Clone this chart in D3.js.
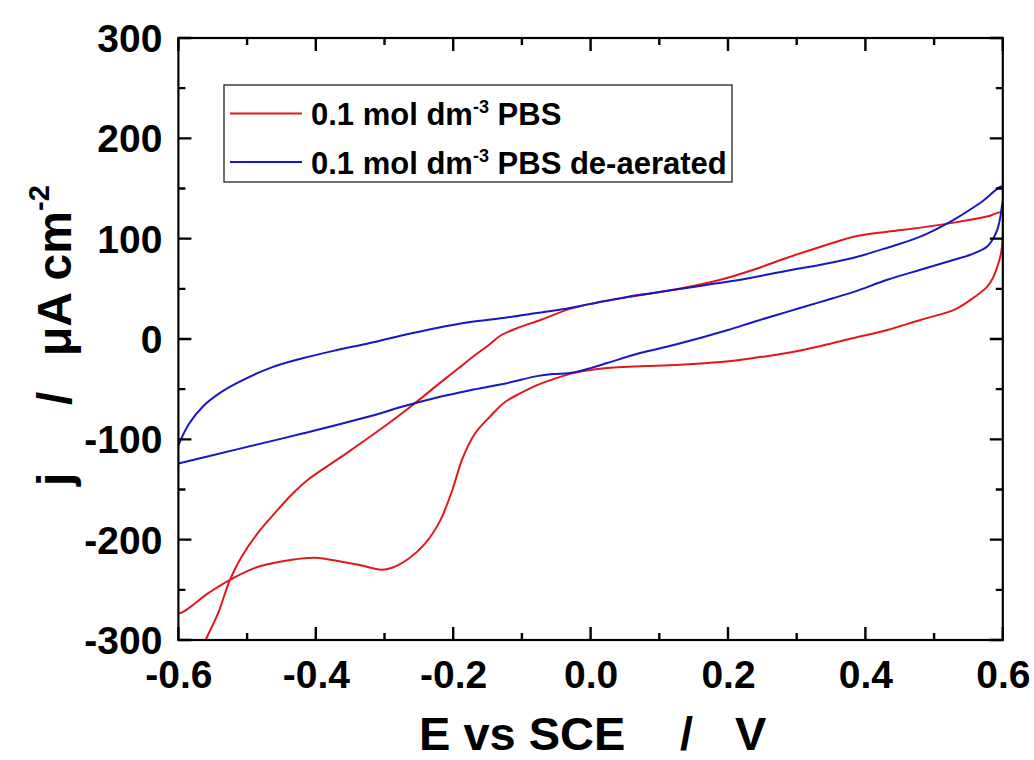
<!DOCTYPE html>
<html>
<head>
<meta charset="utf-8">
<script src="https://cdn.jsdelivr.net/npm/d3@7"></script>
<style>
  html, body { margin: 0; padding: 0; background: #fff; }
  svg { display: block; }
  text { font-family: "Liberation Sans", Arial, Helvetica, sans-serif; font-weight: bold; fill: #000; }
</style>
</head>
<body>
<svg id="chart" width="1034" height="760"></svg>
<script>
// Cyclic voltammograms: potential E (V vs SCE) and current density j (µA cm^-2),
// listed in scan order (anodic sweep first, then the return sweep).
const aeratedE = [-0.600, -0.580, -0.561, -0.542, -0.525, -0.508, -0.484, -0.459, -0.435, -0.411,
  -0.362, -0.314, -0.265, -0.216, -0.190, -0.170, -0.150, -0.132, -0.110, -0.073, -0.025, 0.048,
  0.121, 0.189, 0.237, 0.286, 0.335, 0.383, 0.432, 0.480, 0.529, 0.577, 0.600,
  0.600, 0.597, 0.592, 0.585, 0.577, 0.553, 0.529, 0.480, 0.432, 0.383, 0.335, 0.286, 0.237,
  0.189, 0.121, 0.024, -0.025, -0.054, -0.078, -0.102, -0.125, -0.146, -0.168, -0.187, -0.201,
  -0.219, -0.241, -0.265, -0.289, -0.304, -0.338, -0.362, -0.401, -0.435,
  -0.484, -0.525, -0.556, -0.600, -0.600];
const aeratedJ = [-372, -332, -301, -273, -240, -217, -193, -173, -155, -140,
  -117, -94, -69, -42, -28, -17, -7, 3, 10, 19, 31, 41,
  49, 59, 69, 81, 92, 102, 107, 111, 116, 122, 126,
  102, 84, 72, 60, 52, 39, 29, 19, 9, 1, -7, -14, -19,
  -23, -26, -29, -34, -40, -46, -54, -63, -77, -94, -120, -150,
  -181, -204, -219, -228, -230, -225, -222, -218, -220,
  -227, -240, -253, -273, -252];

const deaeratedE = [-0.600, -0.585, -0.564, -0.540, -0.515, -0.467, -0.418, -0.369, -0.321, -0.272,
  -0.224, -0.175, -0.127, -0.078, -0.030, 0.000, 0.072, 0.121, 0.170, 0.218, 0.286, 0.335,
  0.383, 0.432, 0.480, 0.529, 0.568, 0.600,
  0.598, 0.592, 0.585, 0.577, 0.553, 0.529, 0.480, 0.432, 0.383, 0.335, 0.286, 0.237, 0.200,
  0.121, 0.072, 0.024, 0.000, -0.030, -0.055, -0.078, -0.122, -0.175, -0.222, -0.272, -0.321,
  -0.418, -0.515, -0.600];
const deaeratedJ = [-106, -85, -67, -54, -44, -29, -19, -11, -4, 4,
  11, 17, 21, 26, 31, 35, 44, 49, 54, 59, 68, 74,
  81, 91, 102, 119, 136, 152,
  129, 109, 99, 92, 84, 79, 69, 59, 47, 37, 27, 17, 9,
  -6, -14, -24, -29, -34, -35, -37, -44, -51, -58, -67, -77,
  -94, -110, -124];

const seriesNames = ["0.1 mol dm", "0.1 mol dm"];
const seriesSuffix = [" PBS", " PBS de-aerated"];
const seriesColors = ["#e3161d", "#1717c4"];

const xMajor = [-0.6, -0.4, -0.2, 0.0, 0.2, 0.4, 0.6];
const xMinor = [-0.5, -0.3, -0.1, 0.1, 0.3, 0.5];
const yMajor = [-300, -200, -100, 0, 100, 200, 300];
const yMinor = [-250, -150, -50, 50, 150, 250];

const svg = d3.select("#chart");
const plotL = 178.4, plotR = 1002.8, plotT = 38, plotB = 640;

const x = d3.scaleLinear().domain([-0.6, 0.6]).range([plotL, plotR]);
const y = d3.scaleLinear().domain([-300, 300]).range([plotB, plotT]);

const fmtX = d => d3.format(".1f")(d).replace("\u2212", "-");
const fmtY = d => d3.format("d")(d).replace("\u2212", "-");

// clip region for the data curves
svg.append("defs").append("clipPath").attr("id", "plotClip")
  .append("rect").attr("x", plotL).attr("y", plotT)
  .attr("width", plotR - plotL).attr("height", plotB - plotT);

// curves
const line = d3.line().x(d => x(d[0])).y(d => y(d[1])).curve(d3.curveCatmullRom.alpha(0.5));
const series = [
  d3.zip(aeratedE, aeratedJ),
  d3.zip(deaeratedE, deaeratedJ)
];
const curves = svg.append("g").attr("clip-path", "url(#plotClip)");
series.forEach((pts, i) => {
  curves.append("path").datum(pts)
    .attr("d", line)
    .attr("fill", "none")
    .attr("stroke", seriesColors[i])
    .attr("stroke-width", 2)
    .attr("stroke-linejoin", "round");
});

// tick labels from d3 axes
const labelStyle = g => {
  g.select(".domain").remove();
  g.selectAll(".tick line").remove();
  g.selectAll(".tick text")
    .attr("font-size", 39).attr("fill", "#000")
    .style("font-family", "'Liberation Sans', Arial, sans-serif").style("font-weight", "bold");
};
svg.append("g").attr("transform", `translate(0,${plotB})`)
  .call(d3.axisBottom(x).tickValues(xMajor).tickSize(0).tickFormat(fmtX))
  .call(labelStyle)
  .call(g => g.selectAll(".tick text").attr("dy", null).attr("y", 48));
svg.append("g").attr("transform", `translate(${plotL},0)`)
  .call(d3.axisLeft(y).tickValues(yMajor).tickSize(0).tickFormat(fmtY))
  .call(labelStyle)
  .call(g => g.selectAll(".tick text").attr("dy", "0.35em").attr("x", -16));

// inward tick marks on all four sides, drawn as one path
const majorLen = 13, minorLen = 7;
const xTickList = xMajor.map(v => [v, majorLen]).concat(xMinor.map(v => [v, minorLen]));
const yTickList = yMajor.map(v => [v, majorLen]).concat(yMinor.map(v => [v, minorLen]));
const tickPath = d3.path();
xTickList.forEach(([v, len]) => {
  const px = x(v);
  tickPath.moveTo(px, plotB); tickPath.lineTo(px, plotB - len);
  tickPath.moveTo(px, plotT); tickPath.lineTo(px, plotT + len);
});
yTickList.forEach(([v, len]) => {
  const py = y(v);
  tickPath.moveTo(plotL, py); tickPath.lineTo(plotL + len, py);
  tickPath.moveTo(plotR, py); tickPath.lineTo(plotR - len, py);
});
svg.append("path").attr("d", tickPath.toString())
  .attr("fill", "none").attr("stroke", "#000").attr("stroke-width", 2.4);

// frame
svg.append("rect").attr("x", plotL).attr("y", plotT)
  .attr("width", plotR - plotL).attr("height", plotB - plotT)
  .attr("fill", "none").attr("stroke", "#000").attr("stroke-width", 2.2);

// axis titles
const xt = svg.append("text").attr("font-size", 47).attr("y", 750);
xt.append("tspan").attr("x", 419).text("E vs SCE");
xt.append("tspan").attr("x", 680).text("/");
xt.append("tspan").attr("x", 735).text("V");

const yt = svg.append("text").attr("font-size", 48)
  .attr("transform", "translate(71,486) rotate(-90)");
yt.append("tspan").attr("x", 0).text("j");
yt.append("tspan").attr("x", 81).text("/");
yt.append("tspan").attr("x", 130).text("\u03bcA cm");
yt.append("tspan").attr("dy", -22).attr("font-size", 29).text("-2");

// legend
const lg = svg.append("g");
lg.append("rect").attr("x", 224).attr("y", 85).attr("width", 508).attr("height", 97)
  .attr("fill", "#fff").attr("stroke", "#222").attr("stroke-width", 1.3);
const rowY = [113.5, 162];
rowY.forEach((ry, i) => {
  lg.append("line").attr("x1", 230).attr("x2", 302).attr("y1", ry).attr("y2", ry)
    .attr("stroke", seriesColors[i]).attr("stroke-width", 2);
  const t = lg.append("text").attr("x", 311).attr("y", ry + 11.5).attr("font-size", 31);
  t.append("tspan").text(seriesNames[i]);
  t.append("tspan").attr("dy", -12).attr("font-size", 18).text("-3");
  t.append("tspan").attr("dy", 12).text(seriesSuffix[i]);
});
</script>
</body>
</html>
